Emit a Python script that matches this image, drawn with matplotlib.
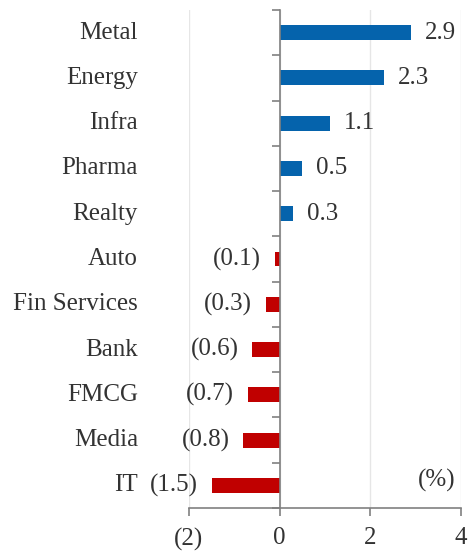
import matplotlib.pyplot as plt
from matplotlib.ticker import FuncFormatter
import matplotlib.transforms as mtransforms

# === Datos ===
sectores = ["Metal", "Energy", "Infra", "Pharma", "Realty", "Auto",
            "Fin Services", "Bank", "FMCG", "Media", "IT"]
valores = [2.9, 2.3, 1.1, 0.5, 0.3, -0.1, -0.3, -0.6, -0.7, -0.8, -1.5]
xticks = [-2, 0, 2, 4]

azul = "#0563AC"
rojo = "#C00000"
gris = "#808080"

plt.rcParams['font.family'] = ['Liberation Serif', 'DejaVu Serif']
plt.rcParams['font.size'] = 18

fig = plt.figure(figsize=(4.74, 5.56), dpi=100)
ax = fig.add_axes([0.3987, 0.0863, 0.574, 0.8957])

pos = list(range(len(sectores)))[::-1]
colores = [azul if v >= 0 else rojo for v in valores]
ax.barh(pos, valores, height=0.33, color=colores, zorder=3)

ax.set_xlim(-2, 4)
ax.set_ylim(-0.5, len(sectores) - 0.5)

# === Ejes ===
ax.spines['top'].set_visible(False)
ax.spines['right'].set_visible(False)
ax.spines['left'].set_position(('data', 0))
for s in ['left', 'bottom']:
    ax.spines[s].set_color(gris)
    ax.spines[s].set_linewidth(1.2)
    ax.spines[s].set_zorder(4)

ax.set_yticks([p - 0.5 for p in range(len(sectores) + 1)])
ax.set_yticklabels([])
ax.tick_params(axis='y', length=6, color=gris, width=1.2)

ax.set_xticks(xticks)
ax.xaxis.set_major_formatter(FuncFormatter(lambda v, _: f"({abs(v):.0f})" if v < 0 else f"{v:.0f}"))
ax.tick_params(axis='x', length=6, color=gris, width=1.2, pad=8, labelcolor="#333333")
ax.grid(axis='x', color="#E6E6E6", linewidth=1, zorder=0)

# === Etiquetas ===
trans = mtransforms.blended_transform_factory(ax.transAxes, ax.transData)
for p, nombre in zip(pos, sectores):
    ax.text(-0.1875, p, nombre, transform=trans, ha='right', va='center', color="#333333")

for p, v in zip(pos, valores):
    txt = f"{v:.1f}" if v >= 0 else f"({abs(v):.1f})"
    ax.annotate(txt, (v, p), xytext=(10 if v >= 0 else -10, 0), textcoords='offset points',
                ha='left' if v >= 0 else 'right', va='center', color="#333333")

ax.text(0.978, 0.056, "(%)", transform=ax.transAxes, ha='right', va='center', color="#333333")

fig.savefig("out.png", dpi=100)
